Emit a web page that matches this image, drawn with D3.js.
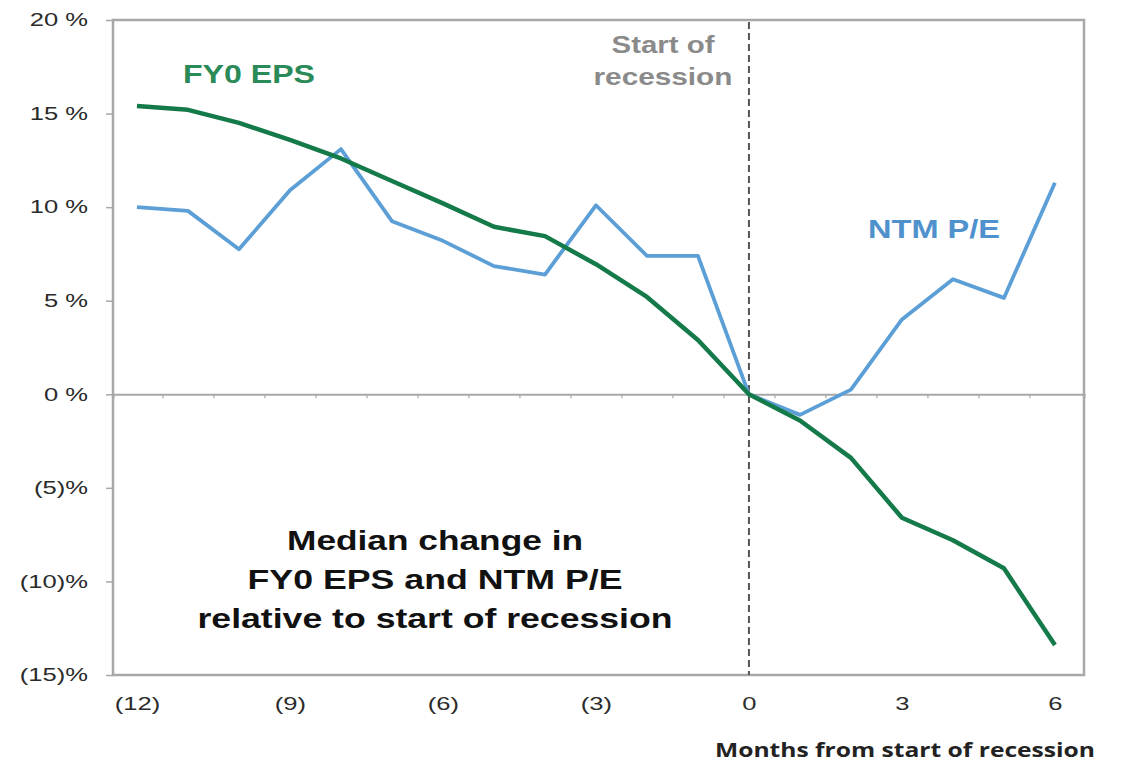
<!DOCTYPE html>
<html>
<head>
<meta charset="utf-8">
<script src="https://cdn.jsdelivr.net/npm/d3@7"></script>
<style>
  html, body { margin: 0; padding: 0; background: #fff; }
  svg { display: block; }
</style>
</head>
<body>
<svg id="chart" width="1124" height="764"></svg>
<script>
// ---- Data ----
const months = [-12, -11, -10, -9, -8, -7, -6, -5, -4, -3, -2, -1, 0, 1, 2, 3, 4, 5, 6];
const fy0Eps = [15.4, 15.2, 14.5, 13.6, 12.6, 11.4, 10.2, 8.95, 8.45, 6.95, 5.2, 2.9, 0, -1.4, -3.4, -6.6, -7.8, -9.3, -13.4];
const ntmPE  = [10.0, 9.8, 7.75, 10.9, 13.1, 9.25, 8.2, 6.85, 6.4, 10.1, 7.4, 7.4, 0, -1.1, 0.25, 4.0, 6.15, 5.15, 11.3];
const xTickValues = [-12, -9, -6, -3, 0, 3, 6];
const xTickLabels = ["(12)", "(9)", "(6)", "(3)", "0", "3", "6"];
const yTickValues = [20, 15, 10, 5, 0, -5, -10, -15];
const yTickLabels = ["20 %", "15 %", "10 %", "5 %", "0 %", "(5)%", "(10)%", "(15)%"];
const seriesNames = ["FY0 EPS", "NTM P/E"];
const titleLines = ["Median change in", "FY0 EPS and NTM P/E", "relative to start of recession"];
const markerLines = ["Start of", "recession"];
const xAxisTitle = "Months from start of recession";

// ---- Layout ----
const L = 113, R = 1084, T = 20, B = 675;
const svg = d3.select("#chart");
const x = d3.scaleLinear().domain([-12.47, 6.57]).range([L, R]);
const y = d3.scaleLinear().domain([-15, 20]).range([B, T]);

const green = "#157a49", blue = "#5b9fd6", frame = "#a8a8a8";
const FONT = "'Liberation Sans', Arial, sans-serif";

function stretch(sel, k) {
  sel.each(function () {
    const w = this.getComputedTextLength();
    d3.select(this).attr("textLength", w * k).attr("lengthAdjust", "spacingAndGlyphs");
  });
}
function fit(sel, width) {
  sel.attr("textLength", width).attr("lengthAdjust", "spacingAndGlyphs");
}

// Frame
svg.append("rect").attr("x", L).attr("y", T).attr("width", R - L).attr("height", B - T)
  .attr("fill", "none").attr("stroke", frame).attr("stroke-width", 2.5);

// Y axis
const yAxis = svg.append("g").attr("transform", `translate(${L},0)`)
  .call(d3.axisLeft(y).tickValues(yTickValues).tickSize(7).tickPadding(18)
    .tickFormat((d, i) => yTickLabels[i]));
yAxis.select(".domain").remove();
yAxis.selectAll(".tick line").attr("stroke", frame).attr("stroke-width", 1.5);
yAxis.selectAll(".tick text").attr("font-family", FONT).attr("font-size", 18).attr("fill", "#2b2b2b");
stretch(yAxis.selectAll(".tick text"), 1.42);

// Zero line with small category ticks
const zero = svg.append("g").attr("transform", `translate(0,${y(0)})`)
  .call(d3.axisBottom(x).tickValues(months.slice(1).map(m => m - 0.5)).tickSize(4).tickFormat(""));
zero.select(".domain").attr("stroke", frame).attr("stroke-width", 2);
zero.selectAll(".tick line").attr("stroke", frame).attr("stroke-width", 1.2);

// X labels at bottom
const xAxis = svg.append("g").attr("transform", `translate(0,${B})`)
  .call(d3.axisBottom(x).tickValues(xTickValues).tickSize(0).tickPadding(22)
    .tickFormat((d, i) => xTickLabels[i]));
xAxis.select(".domain").remove();
xAxis.selectAll(".tick text").attr("font-family", FONT).attr("font-size", 18).attr("fill", "#2b2b2b");
stretch(xAxis.selectAll(".tick text"), 1.42);

// Dashed recession marker
svg.append("line").attr("x1", x(0)).attr("x2", x(0)).attr("y1", T + 2).attr("y2", B)
  .attr("stroke", "#555").attr("stroke-width", 2).attr("stroke-dasharray", "7,4");

// Lines
const line = d3.line().x((d, i) => x(months[i])).y(d => y(d));
svg.append("path").datum(ntmPE).attr("d", line).attr("fill", "none")
  .attr("stroke", blue).attr("stroke-width", 3.8).attr("stroke-linejoin", "round");
svg.append("path").datum(fy0Eps).attr("d", line).attr("fill", "none")
  .attr("stroke", green).attr("stroke-width", 4.5).attr("stroke-linejoin", "round");

// Series labels
fit(svg.append("text").attr("x", 183).attr("y", 83).attr("font-family", FONT)
  .attr("font-weight", "bold").attr("font-size", 26).attr("fill", "#2a8a58").text(seriesNames[0]), 132);
fit(svg.append("text").attr("x", 868).attr("y", 238).attr("font-family", FONT)
  .attr("font-weight", "bold").attr("font-size", 26).attr("fill", "#4f91cc").text(seriesNames[1]), 132);

// Start of recession label
const mk = svg.append("g");
const mkWidths = [103, 139];
markerLines.forEach((t, i) => {
  fit(mk.append("text").attr("x", 663).attr("y", 53 + i * 32).attr("text-anchor", "middle")
    .attr("font-family", FONT).attr("font-weight", "bold").attr("font-size", 23)
    .attr("fill", "#8a8a8a").text(t), mkWidths[i]);
});

// Central title
const tWidths = [296, 375, 475];
titleLines.forEach((t, i) => {
  fit(svg.append("text").attr("x", 435).attr("y", 550 + i * 39).attr("text-anchor", "middle")
    .attr("font-family", FONT).attr("font-weight", "bold").attr("font-size", 27)
    .attr("fill", "#111").text(t), tWidths[i]);
});

// X axis title
fit(svg.append("text").attr("x", 905).attr("y", 757).attr("text-anchor", "middle")
  .attr("font-family", "'Open Sans', sans-serif").attr("font-weight", 700).attr("font-size", 20)
  .attr("fill", "#222").text(xAxisTitle), 380);
</script>
</body>
</html>
